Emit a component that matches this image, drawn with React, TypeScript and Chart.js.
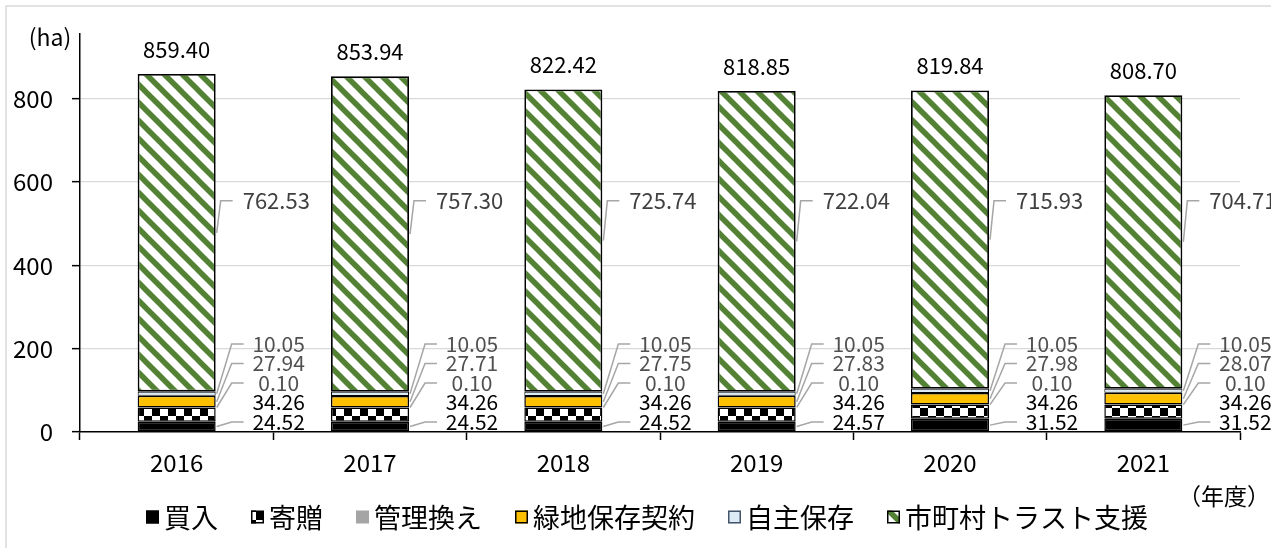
import React, { useEffect, useRef } from 'react';
import { Chart, registerables } from 'chart.js';

Chart.register(...registerables);

const years = ['2016', '2017', '2018', '2019', '2020', '2021'];
const kaiire = [24.52, 24.52, 24.52, 24.57, 31.52, 31.52];
const kizo = [34.26, 34.26, 34.26, 34.26, 34.26, 34.26];
const kanrigae = [0.1, 0.1, 0.1, 0.1, 0.1, 0.1];
const ryokuchi = [27.94, 27.71, 27.75, 27.83, 27.98, 28.07];
const jishu = [10.05, 10.05, 10.05, 10.05, 10.05, 10.05];
const trust = [762.53, 757.3, 725.74, 722.04, 715.93, 704.71];
const totals = [859.4, 853.94, 822.42, 818.85, 819.84, 808.7];
const seriesNames = ['買入', '寄贈', '管理換え', '緑地保存契約', '自主保存', '市町村トラスト支援'];
const yTicks = [0, 200, 400, 600, 800];
const yMax = 957;
const trustLabelAt = 555;

const FONT = "'Noto Sans CJK JP', 'Noto Sans', sans-serif";

function makeChecker(): CanvasPattern | string {
  const c = document.createElement('canvas');
  c.width = 16; c.height = 16;
  const g = c.getContext('2d')!;
  g.fillStyle = '#ffffff'; g.fillRect(0, 0, 16, 16);
  g.fillStyle = '#000000';
  g.fillRect(0, 0, 8, 8);
  g.fillRect(8, 8, 8, 8);
  const p = g.createPattern(c, 'repeat');
  return p || '#555';
}

function makeStripes(): CanvasPattern | string {
  const s = 18;
  const c = document.createElement('canvas');
  c.width = s; c.height = s;
  const g = c.getContext('2d')!;
  g.fillStyle = '#ffffff'; g.fillRect(0, 0, s, s);
  g.strokeStyle = '#548235';
  g.lineWidth = 5.5;
  for (const off of [-s, 0, s]) {
    g.beginPath();
    g.moveTo(off - 2, -2);
    g.lineTo(off + s + 2, s + 2);
    g.stroke();
  }
  const p = g.createPattern(c, 'repeat');
  return p || '#548235';
}

export default function App() {
  const ref = useRef<HTMLCanvasElement | null>(null);

  useEffect(() => {
    const canvas = ref.current;
    if (!canvas) return;
    const checker = makeChecker();
    const stripes = makeStripes();
    const fills: any[] = ['#000000', checker, '#a5a5a5', '#ffc000', '#ddebf7', stripes];
    const borders = [1.5, 1.5, 1, 1.5, 1, 1.8];
    const labelColors = ['#000000', '#000000', '#505050', '#505050', '#505050', '#404040'];
    const leaders = [true, false, true, true, true, true];
    const series = [kaiire, kizo, kanrigae, ryokuchi, jishu, trust];

    const frame = {
      id: 'frame',
      beforeDraw(chart: any) {
        const ctx = chart.ctx;
        ctx.save();
        ctx.fillStyle = '#ffffff';
        ctx.fillRect(0, 0, chart.width, chart.height);
        ctx.strokeStyle = '#d9d9d9';
        ctx.lineWidth = 1.5;
        ctx.beginPath();
        ctx.moveTo(6, chart.height + 2);
        ctx.lineTo(6, 6);
        ctx.lineTo(chart.width + 2, 6);
        ctx.stroke();
        ctx.restore();
      },
    };

    const labels = {
      id: 'labels',
      afterDatasetsDraw(chart: any) {
        const ctx = chart.ctx;
        const yScale = chart.scales.y;
        const y0 = yScale.getPixelForValue(0);
        ctx.save();
        ctx.textBaseline = 'middle';
        for (let i = 0; i < years.length; i++) {
          ctx.font = `21px ${FONT}`;
          for (let d = 0; d < 5; d++) {
            const el: any = chart.getDatasetMeta(d).data[i];
            const right = el.x + el.width / 2;
            const segC = (el.y + el.base) / 2;
            const ly = y0 - 10 - 19.5 * d;
            const cx = right + 63;
            if (leaders[d]) {
              ctx.strokeStyle = '#a6a6a6';
              ctx.lineWidth = 1.5;
              ctx.beginPath();
              ctx.moveTo(right + 1, segC);
              ctx.lineTo(right + 16, ly);
              ctx.lineTo(right + 28, ly);
              ctx.stroke();
            }
            ctx.fillStyle = labelColors[d];
            ctx.textAlign = 'center';
            ctx.fillText(series[d][i].toFixed(2), cx, ly);
          }
          const tel: any = chart.getDatasetMeta(5).data[i];
          const tRight = tel.x + tel.width / 2;
          const tC = (tel.y + tel.base) / 2;
          const tY = yScale.getPixelForValue(trustLabelAt);
          ctx.strokeStyle = '#a6a6a6';
          ctx.lineWidth = 1.5;
          ctx.beginPath();
          ctx.moveTo(tRight + 1, tC);
          ctx.lineTo(tRight + 5, tY);
          ctx.lineTo(tRight + 17, tY);
          ctx.stroke();
          ctx.font = `22px ${FONT}`;
          ctx.fillStyle = labelColors[5];
          ctx.textAlign = 'left';
          ctx.fillText(trust[i].toFixed(2), tRight + 27, tY);
          ctx.fillStyle = '#000000';
          ctx.textAlign = 'center';
          ctx.fillText(totals[i].toFixed(2), tel.x, tel.y - 24.5);
        }
        ctx.fillStyle = '#000000';
        ctx.font = `23px ${FONT}`;
        ctx.textAlign = 'center';
        ctx.fillText('(ha)', 50, 37);
        ctx.font = `23px ${FONT}`;
        ctx.fillText('（年度）', 1224, 496);
        ctx.restore();
      },
    };

    const legend = {
      id: 'customLegend',
      afterDraw(chart: any) {
        const ctx = chart.ctx;
        ctx.save();
        ctx.font = `27px ${FONT}`;
        ctx.textBaseline = 'middle';
        ctx.textAlign = 'left';
        const box = 13, gapIn = 5, gapOut = 33;
        const widths = seriesNames.map((n) => ctx.measureText(n).width);
        const total = widths.reduce((a, w) => a + box + gapIn + w, 0) + gapOut * (seriesNames.length - 1);
        let x = 647 - total / 2;
        const cy = 517;
        seriesNames.forEach((n, k) => {
          ctx.fillStyle = fills[k];
          ctx.fillRect(x, cy - box / 2, box, box);
          if (k !== 2) {
            ctx.strokeStyle = k === 4 ? '#44546a' : '#000000';
            ctx.lineWidth = 1.5;
            ctx.strokeRect(x + 0.75, cy - box / 2 + 0.75, box - 1.5, box - 1.5);
          }
          ctx.fillStyle = '#000000';
          ctx.fillText(n, x + box + gapIn, cy + 1);
          x += box + gapIn + widths[k] + gapOut;
        });
        ctx.restore();
      },
    };

    const chart = new Chart(canvas, {
      type: 'bar',
      data: {
        labels: years,
        datasets: series.map((data, k) => ({
          label: seriesNames[k],
          data,
          backgroundColor: fills[k],
          borderColor: '#000000',
          borderWidth: borders[k],
          borderSkipped: false,
          barPercentage: 0.4035,
          categoryPercentage: 1,
        })),
      },
      options: {
        responsive: false,
        animation: false,
        layout: { padding: { top: 33, right: 31, left: 0, bottom: 0 } },
        plugins: {
          legend: { display: false },
          tooltip: { enabled: false },
        },
        scales: {
          x: {
            stacked: true,
            grid: {
              display: true,
              drawOnChartArea: false,
              drawTicks: true,
              tickLength: 8,
              tickColor: '#000000',
              tickWidth: 1.5,
              offset: true,
            },
            border: { display: true, color: '#000000', width: 1.5 },
            ticks: { color: '#000000', font: { family: FONT, size: 24 }, padding: 8, maxRotation: 0 },
            afterFit(s: any) { s.height = 116; },
          },
          y: {
            stacked: true,
            min: 0,
            max: yMax,
            grid: {
              color: (c: any) => (c.tick && c.tick.value === 0 ? 'rgba(0,0,0,0)' : '#d9d9d9'),
              lineWidth: 1.3,
              tickLength: 8,
              tickColor: '#000000',
              tickWidth: 1.5,
            },
            border: { display: true, color: '#000000', width: 1.5 },
            ticks: { color: '#000000', font: { family: FONT, size: 24 }, padding: 19 },
            afterBuildTicks(s: any) { s.ticks = yTicks.map((v) => ({ value: v })); },
            afterFit(s: any) { s.width = 80; },
          },
        },
      },
      plugins: [frame, labels, legend],
    } as any);

    return () => chart.destroy();
  }, []);

  return (
    <div style={{ position: 'fixed', left: 0, top: 0, width: 1271, height: 548, background: '#fff' }}>
      <canvas ref={ref} width={1271} height={548} style={{ display: 'block' }} />
    </div>
  );
}
